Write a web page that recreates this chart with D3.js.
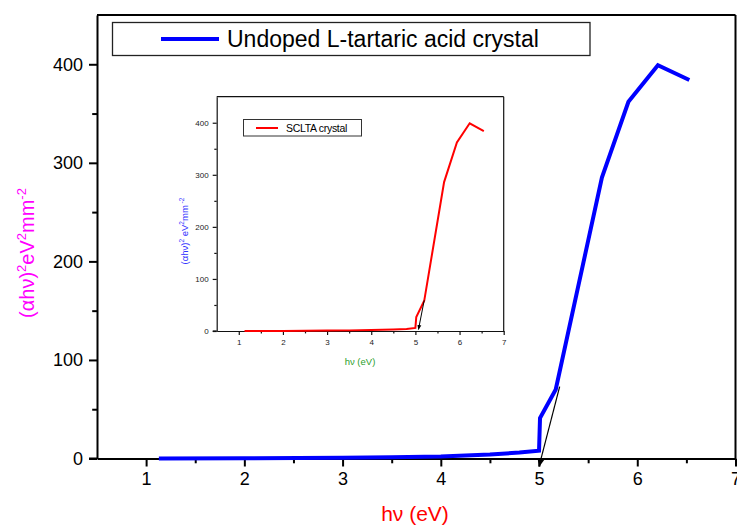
<!DOCTYPE html>
<html><head><meta charset="utf-8">
<script src="https://cdn.jsdelivr.net/npm/d3@7"></script>
<style>body{margin:0;background:#fff}svg{display:block;font-family:"Liberation Sans",Arial,sans-serif}</style>
</head><body>
<svg id="c" width="737" height="528"></svg>
<script>
// Main series: Undoped L-tartaric acid crystal
const mainX = [1.13, 2.0, 3.0, 3.5, 4.0, 4.5, 4.8, 5.0, 5.01, 5.17, 5.64, 5.91, 6.21, 6.53];
const mainY = [0, 0.2, 0.8, 1.2, 2, 4, 6, 8, 41, 70, 285, 362, 399, 384];
// Inset series: SCLTA crystal
const insetX = [1.13, 2.0, 3.0, 3.5, 4.0, 4.5, 4.8, 5.0, 5.02, 5.2, 5.65, 5.94, 6.23, 6.55];
const insetY = [0, 0.2, 0.8, 1.2, 2, 3, 4, 6, 27, 58, 286, 362, 399, 384];
// Tangent lines (extrapolation to band gap)
const mainTanX = [5.21, 5.0];
const mainTanY = [73, -8];
const insetTanX = [5.2, 5.07];
const insetTanY = [59, 3];
const xTicks = [1, 2, 3, 4, 5, 6, 7];
const yTicks = [0, 100, 200, 300, 400];
const xDomain = [0.5, 7];
const yDomain = [0, 450];

const svg = d3.select("#c");
const defs = svg.append("defs");
defs.append("marker").attr("id","arr").attr("viewBox","0 0 10 10").attr("refX",9).attr("refY",5)
  .attr("markerWidth",7).attr("markerHeight",7).attr("orient","auto-start-reverse")
  .append("path").attr("d","M0,1 L10,5 L0,9 z").attr("fill","#000");
defs.append("marker").attr("id","arrS").attr("viewBox","0 0 10 10").attr("refX",9).attr("refY",5)
  .attr("markerWidth",5).attr("markerHeight",5).attr("orient","auto-start-reverse")
  .append("path").attr("d","M0,1 L10,5 L0,9 z").attr("fill","#000");

function panel(o){
  const x = d3.scaleLinear().domain(xDomain).range([o.l, o.r]);
  const y = d3.scaleLinear().domain(yDomain).range([o.b, o.t]);
  const g = svg.append("g");
  g.append("line").attr("x1",o.l).attr("x2",o.r).attr("y1",o.t).attr("y2",o.t).attr("stroke",o.axisColor).attr("stroke-width",o.frameW);
  g.append("line").attr("x1",o.r).attr("x2",o.r).attr("y1",o.t).attr("y2",o.b).attr("stroke",o.axisColor).attr("stroke-width",o.frameW);
  const xMinor = d3.range(1.5, 7, 1);
  const yMinor = d3.range(50, 450, 100);
  const xa = g.append("g").attr("transform",`translate(0,${o.b})`)
    .call(d3.axisBottom(x).tickValues(xTicks).tickSize(o.tick).tickSizeOuter(0).tickPadding(o.pad).tickFormat(d3.format("d")));
  const xm = g.append("g").attr("transform",`translate(0,${o.b})`)
    .call(d3.axisBottom(x).tickValues(xMinor).tickSize(o.tick*0.6).tickSizeOuter(0).tickFormat(""));
  const ya = g.append("g").attr("transform",`translate(${o.l},0)`)
    .call(d3.axisLeft(y).tickValues(yTicks).tickSize(o.tick).tickSizeOuter(0).tickPadding(o.pad).tickFormat(d3.format("d")));
  const ym = g.append("g").attr("transform",`translate(${o.l},0)`)
    .call(d3.axisLeft(y).tickValues(yMinor).tickSize(o.tick*0.6).tickSizeOuter(0).tickFormat(""));
  [xa,xm,ya,ym].forEach(a=>{
    a.select(".domain").attr("stroke",o.axisColor).attr("stroke-width",o.axisW);
    a.selectAll(".tick line").attr("stroke",o.axisColor).attr("stroke-width",o.axisW);
    a.selectAll("text").attr("font-size",o.fs).attr("fill",o.tickColor).attr("font-family","Liberation Sans, Arial, sans-serif");
  });
  ym.select(".domain").remove(); xm.select(".domain").remove();
  g.append("line").attr("x1",o.l - o.tick).attr("x2",o.l).attr("y1",o.b).attr("y2",o.b).attr("stroke",o.axisColor).attr("stroke-width",o.axisW);
  const line = d3.line().x(d=>x(d[0])).y(d=>y(d[1]));
  g.append("path").datum(o.xs.map((v,i)=>[v,o.ys[i]])).attr("d",line).attr("fill","none")
    .attr("stroke",o.color).attr("stroke-width",o.lw).attr("stroke-linejoin","miter");
  g.append("path").datum(o.tx.map((v,i)=>[v,o.ty[i]])).attr("d",line).attr("fill","none")
    .attr("stroke","#000").attr("stroke-width",o.tw).attr("marker-end",`url(#${o.marker})`);
  return {x,y,g};
}

// Main panel
const M = panel({l:97,r:735.5,t:15,b:458.5,axisColor:"#000",tickColor:"#000",frameW:2,axisW:2,tick:8,pad:6,fs:18,
  xs:mainX,ys:mainY,color:"#0000ff",lw:4,tx:mainTanX,ty:mainTanY,tw:1.2,marker:"arr"});
// main legend
svg.append("rect").attr("x",112.5).attr("y",22.5).attr("width",477.5).attr("height",33).attr("fill","#fff").attr("stroke","#222").attr("stroke-width",1.3);
svg.append("line").attr("x1",161).attr("x2",219).attr("y1",39).attr("y2",39).attr("stroke","#0000ff").attr("stroke-width",4);
svg.append("text").attr("x",227).attr("y",47).attr("font-size",23).attr("fill","#000").text("Undoped L-tartaric acid crystal");
// main axis titles
svg.append("text").attr("x",415).attr("y",521).attr("text-anchor","middle").attr("font-size",21).attr("fill","#ff0000").text("hν (eV)");
const yt = svg.append("text").attr("transform","translate(34,253) rotate(-90)").attr("text-anchor","middle").attr("font-size",20).attr("fill","#ff00ff");
yt.append("tspan").text("(αhν)");
yt.append("tspan").attr("dy",-8).attr("font-size",13).text("2");
yt.append("tspan").attr("dy",8).text("eV");
yt.append("tspan").attr("dy",-8).attr("font-size",13).text("2");
yt.append("tspan").attr("dy",8).text("mm");
yt.append("tspan").attr("dy",-8).attr("font-size",13).text("-2");

// Inset panel
svg.append("rect").attr("x",216.7).attr("y",96.7).attr("width",287).attr("height",234.3).attr("fill","#fff");
const I = panel({l:216.7,r:503.7,t:96.7,b:331,axisColor:"#111",tickColor:"#222",frameW:1.2,axisW:1.2,tick:4,pad:4,fs:8,
  xs:insetX,ys:insetY,color:"#ff0000",lw:2,tx:insetTanX,ty:insetTanY,tw:1,marker:"arrS"});
svg.append("rect").attr("x",243.5).attr("y",119.5).attr("width",118).attr("height",16.5).attr("fill","#fff").attr("stroke","#333").attr("stroke-width",1);
svg.append("line").attr("x1",256).attr("x2",278).attr("y1",128).attr("y2",128).attr("stroke","#ff0000").attr("stroke-width",2);
svg.append("text").attr("x",286).attr("y",131.5).attr("font-size",10.5).attr("letter-spacing",-0.3).attr("fill","#000").text("SCLTA crystal");
svg.append("text").attr("x",360).attr("y",365).attr("text-anchor","middle").attr("font-size",9.5).attr("fill","#2ca02c").text("hν (eV)");
const it = svg.append("text").attr("transform","translate(188,231) rotate(-90)").attr("text-anchor","middle").attr("font-size",9.5).attr("fill","#3333ff");
it.append("tspan").text("(αhν)");
it.append("tspan").attr("dy",-4).attr("font-size",6.5).text("2");
it.append("tspan").attr("dy",4).text(" eV");
it.append("tspan").attr("dy",-4).attr("font-size",6.5).text("2");
it.append("tspan").attr("dy",4).text("mm");
it.append("tspan").attr("dy",-4).attr("font-size",6.5).text(" -2");
</script>
</body></html>
